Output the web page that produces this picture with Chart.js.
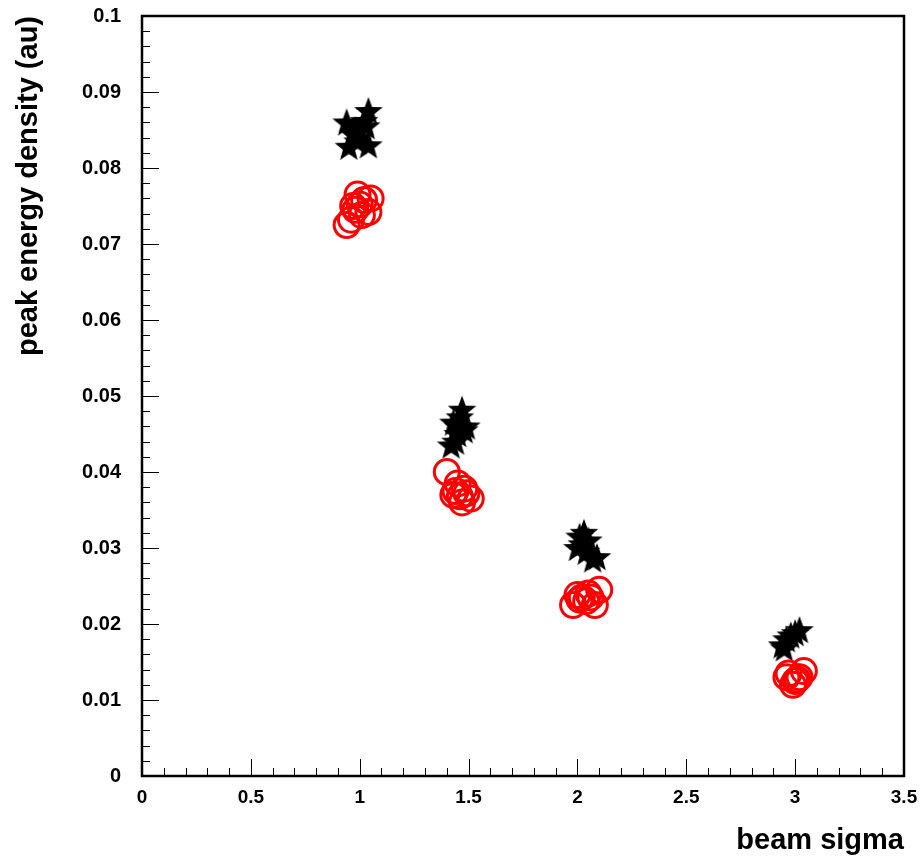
<!DOCTYPE html>
<html>
<head>
<meta charset="utf-8">
<script src="https://cdn.jsdelivr.net/npm/chart.js@4/dist/chart.umd.min.js"></script>
<style>
  html, body { margin: 0; padding: 0; background: #fff; }
  #wrap { width: 920px; height: 858px; }
</style>
</head>
<body>
<div id="wrap"><canvas id="chart" width="920" height="858"></canvas></div>
<script>
const starX = [0.94, 1.04, 0.95, 1.04, 0.98, 1.00, 1.02, 0.97, 0.99, 1.03,
               1.47, 1.43, 1.49, 1.45, 1.42, 1.44, 1.48, 1.46, 1.45,
               2.01, 2.05, 2.00, 2.09, 2.04, 2.02, 2.07, 2.03,
               2.94, 2.96, 2.98, 3.02, 2.95, 3.00];
const starY = [0.0860, 0.0875, 0.0828, 0.0830, 0.0850, 0.0840, 0.0862, 0.0845, 0.0835, 0.0855,
               0.0482, 0.0465, 0.0460, 0.0450, 0.0435, 0.0440, 0.0455, 0.0472, 0.0460,
               0.0315, 0.0310, 0.0300, 0.0288, 0.0295, 0.0305, 0.0285, 0.0320,
               0.0172, 0.0180, 0.0185, 0.0192, 0.0168, 0.0188];
const circX = [0.94, 0.96, 0.98, 1.00, 1.02, 1.04, 1.05, 0.99, 1.01, 0.97,
               1.40, 1.43, 1.46, 1.48, 1.51, 1.45, 1.47, 1.44, 1.49,
               1.98, 2.02, 2.05, 2.08, 2.10, 2.04, 2.06, 2.01, 2.00,
               2.97, 3.00, 3.02, 2.99, 3.04, 2.96, 3.01];
const circY = [0.0725, 0.0732, 0.0745, 0.0752, 0.0758, 0.0742, 0.0760, 0.0765, 0.0738, 0.0750,
               0.0400, 0.0370, 0.0368, 0.0378, 0.0365, 0.0385, 0.0360, 0.0375, 0.0372,
               0.0225, 0.0235, 0.0240, 0.0225, 0.0245, 0.0230, 0.0235, 0.0232, 0.0238,
               0.0135, 0.0125, 0.0130, 0.0120, 0.0138, 0.0130, 0.0127];
const xTicks = [0, 0.5, 1, 1.5, 2, 2.5, 3, 3.5];
const yTicks = [0, 0.01, 0.02, 0.03, 0.04, 0.05, 0.06, 0.07, 0.08, 0.09, 0.1];

const FONT = "'Liberation Sans', Arial, sans-serif";

// filled five-pointed star used as point style
function makeStar(r) {
  const c = document.createElement("canvas");
  const s = Math.ceil(r * 2 + 2);
  c.width = s; c.height = s;
  const g = c.getContext("2d");
  g.translate(s / 2, s / 2 + 1);
  g.beginPath();
  for (let i = 0; i < 10; i++) {
    const rad = i % 2 === 0 ? r : r * 0.42;
    const a = -Math.PI / 2 + i * Math.PI / 5;
    g.lineTo(rad * Math.cos(a), rad * Math.sin(a));
  }
  g.closePath();
  g.fillStyle = "#000";
  g.fill();
  return c;
}

const toPoints = (xs, ys) => xs.map((x, i) => ({ x: x, y: ys[i] }));

// inward ticks + frame, ROOT style
const frame = {
  id: "frame",
  afterDraw(chart) {
    const ctx = chart.ctx;
    const a = chart.chartArea;
    const xs = chart.scales.x, ys = chart.scales.y;
    ctx.save();
    ctx.strokeStyle = "#000";
    ctx.lineWidth = 1;
    for (let k = 0; k <= 35; k++) {
      const px = Math.round(xs.getPixelForValue(k / 10)) + 0.5;
      const len = k % 5 === 0 ? 17 : 8;
      ctx.beginPath(); ctx.moveTo(px, a.bottom); ctx.lineTo(px, a.bottom - len); ctx.stroke();
    }
    for (let k = 0; k <= 50; k++) {
      const py = Math.round(ys.getPixelForValue(k * 0.002)) + 0.5;
      const len = k % 5 === 0 ? 17 : 8;
      ctx.beginPath(); ctx.moveTo(a.left, py); ctx.lineTo(a.left + len, py); ctx.stroke();
    }
    ctx.lineWidth = 2.5;
    ctx.strokeRect(a.left, a.top, a.right - a.left, a.bottom - a.top);
    ctx.restore();
  }
};

function noPad(s) {
  s.paddingTop = 0; s.paddingBottom = 0; s.paddingLeft = 0; s.paddingRight = 0;
}

new Chart(document.getElementById("chart").getContext("2d"), {
  type: "scatter",
  data: {
    datasets: [
      {
        label: "circles",
        data: toPoints(circX, circY),
        pointStyle: "circle",
        pointRadius: 12.5,
        pointHoverRadius: 12.5,
        borderColor: "#ff0000",
        backgroundColor: "rgba(0,0,0,0)",
        borderWidth: 3
      },
      {
        label: "stars",
        data: toPoints(starX, starY),
        pointStyle: makeStar(15),
        pointRadius: 15,
        borderColor: "#000",
        backgroundColor: "#000"
      }
    ]
  },
  plugins: [frame],
  options: {
    responsive: false,
    animation: false,
    events: [],
    layout: { padding: { top: 14, right: 16, left: 0, bottom: 0 } },
    plugins: { legend: { display: false }, tooltip: { enabled: false } },
    scales: {
      x: {
        type: "linear",
        min: 0, max: 3.5,
        afterBuildTicks: s => { s.ticks = xTicks.map(v => ({ value: v })); },
        afterFit: s => { s.height = 82; noPad(s); },
        grid: { display: false, drawTicks: false },
        border: { display: false },
        ticks: {
          padding: 10,
          color: "#000",
          font: { family: FONT, size: 19, weight: "bold" },
          callback: v => String(v)
        },
        title: {
          display: true,
          text: "beam sigma",
          align: "end",
          color: "#000",
          font: { family: FONT, size: 29, weight: "bold" },
          padding: { top: 19, bottom: 0 }
        }
      },
      y: {
        type: "linear",
        min: 0, max: 0.1,
        afterBuildTicks: s => { s.ticks = yTicks.map(v => ({ value: v })); },
        afterFit: s => { s.width = 142; noPad(s); },
        grid: { display: false, drawTicks: false },
        border: { display: false },
        ticks: {
          padding: 21,
          color: "#000",
          font: { family: FONT, size: 20, weight: "bold" },
          callback: v => String(Math.round(v * 100) / 100)
        },
        title: {
          display: true,
          text: "peak energy density (au)",
          align: "end",
          color: "#000",
          font: { family: FONT, size: 29, weight: "bold" },
          padding: { top: 12, bottom: 0 }
        }
      }
    }
  }
});
</script>
</body>
</html>
